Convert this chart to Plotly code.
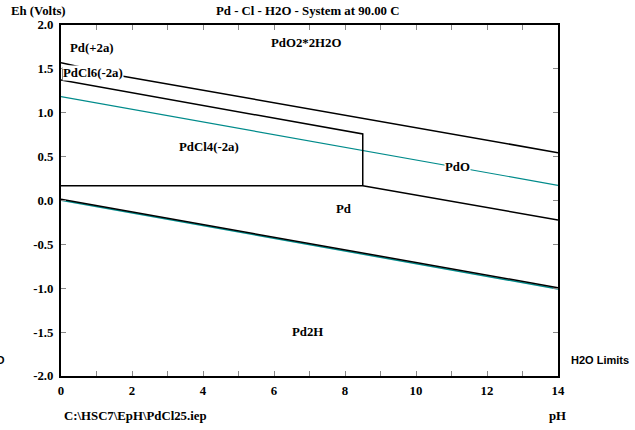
import plotly.graph_objects as go

# Boundary lines (pH, Eh)
top_ph = [0.0, 1.71, 14.0]
top_eh = [1.57, 1.42, 0.545]

pdcl6_lower_ph = [0.0, 8.5, 8.5]
pdcl6_lower_eh = [1.373, 0.758, 0.169]

bracket_ph = [0.25, 0.05, 0.05]
bracket_eh = [1.50, 1.507, 1.373]

pdcl4_pd_ph = [0.0, 8.5, 14.0]
pdcl4_pd_eh = [0.169, 0.169, -0.222]

pd_pd2h_ph = [0.0, 14.0]
pd_pd2h_eh = [0.013, -0.994]

h2o_upper_ph = [0.0, 14.0]
h2o_upper_eh = [1.183, 0.173]

h2o_lower_ph = [0.0, 14.0]
h2o_lower_eh = [0.002, -1.008]

# Region labels
label_text = ["Pd(+2a)", "PdO2*2H2O", "PdCl6(-2a)", "PdCl4(-2a)", "PdO", "Pd", "Pd2H"]
label_ph = [0.86, 6.89, 0.90, 4.17, 11.18, 7.97, 6.93]
label_eh = [1.735, 1.79, 1.45, 0.613, 0.385, -0.097, -1.495]

x_ticks = list(range(0, 15))
x_ticktext = ["<b>%d</b>" % v if v % 2 == 0 else "" for v in x_ticks]
y_ticks = [-2.0, -1.5, -1.0, -0.5, 0.0, 0.5, 1.0, 1.5, 2.0]
y_ticktext = ["<b>%.1f</b>" % v for v in y_ticks]

TEAL = "#008b8b"
SERIF = "Liberation Serif"
FS = 12.8

fig = go.Figure()

def add_line(xs, ys, color, width):
    fig.add_trace(go.Scatter(x=xs, y=ys, mode="lines",
                             line=dict(color=color, width=width),
                             hoverinfo="skip", showlegend=False))

add_line(h2o_upper_ph, h2o_upper_eh, TEAL, 1.2)
add_line(h2o_lower_ph, h2o_lower_eh, TEAL, 1.5)
add_line(top_ph, top_eh, "black", 1.5)
add_line(pdcl6_lower_ph, pdcl6_lower_eh, "black", 1.5)
add_line(bracket_ph, bracket_eh, "black", 1.5)
add_line(pdcl4_pd_ph, pdcl4_pd_eh, "black", 1.5)
add_line(pd_pd2h_ph, pd_pd2h_eh, "black", 1.5)

for t, x, y in zip(label_text, label_ph, label_eh):
    fig.add_annotation(x=x, y=y, text="<b>%s</b>" % t, showarrow=False, xref="x", yref="y",
                       font=dict(family=SERIF, size=FS, color="black"),
                       bgcolor="white", borderpad=0)

W, H = 635, 430
ML, MR, MT, MB = 61, 77, 25, 54
PW, PH = W - ML - MR, H - MT - MB

def px(xp):
    return (xp - ML) / PW

def py(yp):
    return (H - MB - yp) / PH

extra = [
    ("Pd - Cl - H2O - System at 90.00 C", 307.5, 11.5, "center", SERIF, FS),
    ("Eh (Volts)", 38.7, 11.5, "center", SERIF, FS),
    ("C:\\HSC7\\EpH\\PdCl25.iep", 62, 416, "left", SERIF, FS),
    ("pH", 557, 416, "center", SERIF, FS),
    ("H2O Limits", 569, 360, "left", "Liberation Sans", 11),
    ("H2O", 7, 360, "right", "Liberation Sans", 11),
]
for t, x, y, anc, fam, sz in extra:
    fig.add_annotation(x=px(x), y=py(y), xref="paper", yref="paper", text="<b>%s</b>" % t,
                       showarrow=False, xanchor=anc, yanchor="middle",
                       font=dict(family=fam, size=sz, color="black"))

axis_common = dict(showline=True, linewidth=2, linecolor="black", mirror="ticks",
                   ticks="inside", ticklen=5, tickcolor="#888888", tickwidth=1,
                   showgrid=False, zeroline=False,
                   tickfont=dict(family=SERIF, size=FS, color="black"))

fig.update_xaxes(range=[0, 14], tickvals=x_ticks, ticktext=x_ticktext,
                 ticklabelstandoff=2, **axis_common)
fig.update_yaxes(range=[-2, 2], tickvals=y_ticks, ticktext=y_ticktext,
                 ticklabelstandoff=3, **axis_common)

fig.update_layout(width=W, height=H, margin=dict(l=ML, r=MR, t=MT, b=MB),
                  plot_bgcolor="white", paper_bgcolor="white", showlegend=False)

fig.write_html("out.html", config={"displayModeBar": False},
               post_script="document.body.style.margin='0';document.body.style.padding='0';")
